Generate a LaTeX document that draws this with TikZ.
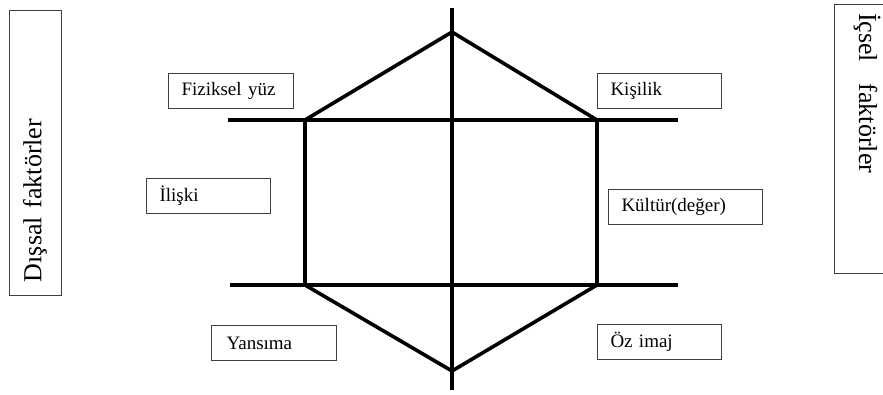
\documentclass[tikz,border=0pt]{standalone}
\usepackage{fontspec}
\setmainfont{Liberation Serif}
\usetikzlibrary{positioning}
\tikzset{
  lbl/.style={draw=black!75,line width=1pt,anchor=north west,align=left,inner xsep=13pt,inner ysep=0pt,minimum height=35pt,font=\fontsize{19}{22}\selectfont},
  side/.style={draw=black!75,line width=1pt,align=left,inner ysep=0pt,font=\fontsize{26}{30}\selectfont},
  bar/.style={line width=3.6pt},
}

\begin{document}
\begin{tikzpicture}[x=1pt,y=-1pt]
  \useasboundingbox (0,0) rectangle (883,394);
  % side frames
  \node[side,rotate=90,inner xsep=13pt,text width=259pt,minimum height=52pt] (dis) at (35,152.5) {Dışsal faktörler};
  \node[side,rotate=-90,inner xsep=9pt,text width=251pt,minimum height=66pt] (ic) at (867,138.5) {İçsel\hspace{0.5em} faktörler};
  % hexagon points
  \coordinate (top) at (452,8);
  \coordinate (apex) at (452,32);
  \coordinate (base) at (452,371);
  \coordinate (bot) at (452,390);
  \coordinate (ul) at (305,120);
  \coordinate (ur) at (597,120);
  \coordinate (ll) at (305,285);
  \coordinate (lr) at (597,285);
  \coordinate (uw) at (228,120);
  \coordinate (ue) at (678,120);
  \coordinate (lw) at (230,285);
  \coordinate (le) at (678,285);
  \draw[bar] (top) -- (bot);
  \draw[bar] (uw) -- (ue);
  \draw[bar] (lw) -- (le);
  \draw[bar] (ul) -- (apex) -- (ur) -- (lr) -- (base) -- (ll) -- cycle;
  % labels
  \node[lbl,text width=99pt] (fiz) at (168,73) {Fiziksel yüz};
  \node[lbl,text width=98pt] (ili) at (146,178) {İlişki};
  \node[lbl,text width=98pt] (kis) at (597,73) {Kişilik};
  \node[lbl,text width=128pt] (kul) at (608,189) {Kültür(değer)};
  \node[lbl,inner xsep=15pt,text width=95pt] (yan) at (211,325) {Yansıma};
  \node[lbl,text width=98pt] (oz) at (597,324) {Öz imaj};
\end{tikzpicture}
\end{document}
